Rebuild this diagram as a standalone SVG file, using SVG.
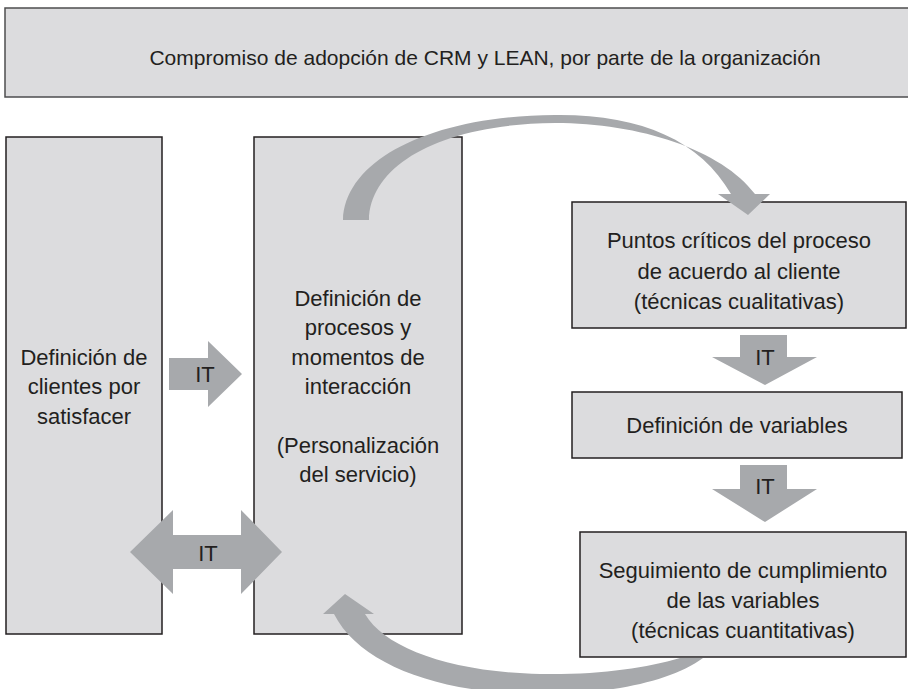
<svg xmlns="http://www.w3.org/2000/svg" width="908" height="689" viewBox="0 0 908 689">
<style>
.box{fill:#dcdcde;stroke:#231f20;stroke-width:1.5}
.arr{fill:#a7a9ac;stroke:none}
text{font-family:"Liberation Sans",Arial,sans-serif;font-size:22px;fill:#231f20;text-anchor:middle}
.top{font-size:21px}
</style>
<rect width="908" height="689" fill="#ffffff"/>
<g id="node-top">
<rect class="box" x="5" y="8" width="920" height="89" style="stroke:#4d4d4f"/>
<text class="top" x="485" y="65">Compromiso de adopción de CRM y LEAN, por parte de la organización</text>
</g>
<g id="node-clientes">
<rect class="box" x="6" y="137" width="156" height="497"/>
<text x="84" y="365">Definición de</text>
<text x="84" y="394">clientes por</text>
<text x="84" y="424">satisfacer</text>
</g>
<g id="node-procesos">
<rect class="box" x="254" y="137" width="208" height="497"/>
<text x="358" y="306">Definición de</text>
<text x="358" y="335">procesos y</text>
<text x="358" y="365">momentos de</text>
<text x="358" y="394">interacción</text>
<text x="358" y="453">(Personalización</text>
<text x="358" y="482">del servicio)</text>
</g>
<g id="node-puntos">
<rect class="box" x="572" y="202" width="334" height="126"/>
<text x="739" y="248">Puntos críticos del proceso</text>
<text x="739" y="279">de acuerdo al cliente</text>
<text x="739" y="309">(técnicas cualitativas)</text>
</g>
<g id="node-variables">
<rect class="box" x="572" y="392" width="330" height="66"/>
<text x="737" y="433">Definición de variables</text>
</g>
<g id="node-seguimiento">
<rect class="box" x="580" y="532" width="326" height="125"/>
<text x="743" y="578">Seguimiento de cumplimiento</text>
<text x="743" y="608">de las variables</text>
<text x="743" y="638">(técnicas cuantitativas)</text>
</g>
<g id="connectors">
<path class="arr" d="M343 220 C345 160 430 116 555 115 C640 114 700 140 731 194 L718 194 L748 215 L770 194 L755 194 C722 150 640 123 555 123 C440 124 370 165 369 220 Z"/>
<path class="arr" d="M680 658 C645 668 600 675 540 674 C450 672 385 648 365 614 L374 614 L345 594 L323 614 L334 614 C360 665 440 694 540 694 C610 694 670 682 703 658 Z"/>
<path class="arr" d="M169 358 L208 358 L208 341 L242 374 L208 407 L208 390 L169 390 Z"/>
<text x="205" y="382">IT</text>
<path class="arr" d="M130 552 L173 510 L173 535 L241 535 L241 510 L282 552 L241 594 L241 569 L173 569 L173 594 Z"/>
<text x="208" y="561">IT</text>
<path class="arr" d="M740 335 L787 335 L787 357 L817 357 L765 385 L712 357 L740 357 Z"/>
<text x="765" y="365">IT</text>
<path class="arr" d="M740 465 L787 465 L787 489 L817 489 L765 522 L712 489 L740 489 Z"/>
<text x="765" y="494">IT</text>
</g>
</svg>
